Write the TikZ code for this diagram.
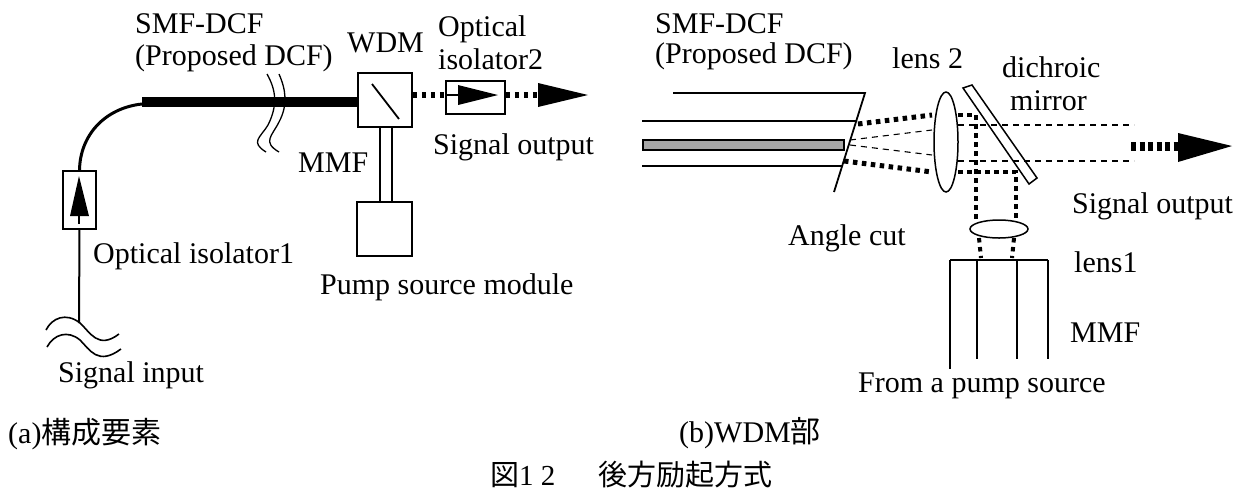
\documentclass[tikz,border=0pt]{standalone}
\usepackage{fontspec}
\setmainfont{Liberation Serif}
\newfontfamily\cjk{Noto Sans CJK JP}
\usetikzlibrary{calc}
\usetikzlibrary{shapes.geometric}
\colorlet{corecolor}{black!35}
\tikzstyle{lbl} = [
    anchor=base west,
    inner sep=0pt,
    font=\fontsize{30}{36}\selectfont
    ]
\tikzstyle{optbox} = [
    draw=black,
    line width=1.5pt,
    rectangle,
    inner sep=0pt
    ]
\tikzstyle{fibre} = [
    draw=black,
    line width=1.6pt
    ]
\tikzstyle{beam} = [
    draw=black,
    line width=5pt,
    dash pattern=on 4.5pt off 4.5pt
    ]
\tikzstyle{thinbeam} = [
    draw=black,
    line width=1.1pt,
    dash pattern=on 6pt off 5pt
    ]
\tikzstyle{bigbeam} = [
    draw=black,
    line width=9pt,
    dash pattern=on 5pt off 3.5pt
    ]
\tikzstyle{lens} = [
    draw=black,
    line width=1.5pt,
    ellipse,
    inner sep=0pt
    ]
\begin{document}
\begin{tikzpicture}[x=1pt,y=-1pt]
\useasboundingbox (0,0) rectangle (1252,491);

% (a) left part
\node[optbox, minimum width=54pt, minimum height=54pt] (wdm) at (385,100) {};
\node[optbox, minimum width=33pt, minimum height=58pt] (isoone) at (79.5,200) {};
\node[optbox, minimum width=59pt, minimum height=33pt] (isotwo) at (475.5,97.5) {};
\node[optbox, minimum width=55pt, minimum height=54pt] (pump) at (384.5,229) {};
\coordinate (bend) at (142,104);
\coordinate (inend) at (79,323);
\coordinate (outstart) at (538,95);

\draw[line width=10pt] (bend |- 0,102) -- (wdm.west |- 0,102);
\draw[line width=3pt] (bend) .. controls (105,108) and (80,135) .. (isoone.north);
\draw[fibre, line width=2pt] (isoone.south) -- (inend);
\draw[line width=1.8pt] (372,84) -- (399,119);
\draw[fibre, line width=1.4pt] ($(wdm.south)+(-5,0)$) -- ($(pump.north)+(-4.5,0)$);
\draw[fibre, line width=1.4pt] ($(wdm.south)+(7,0)$) -- ($(pump.north)+(7.5,0)$);
\draw[beam, line width=6pt] (wdm.east |- 0,95) -- (isotwo.west |- 0,95);
\draw[beam, line width=6pt] (isotwo.east |- 0,95) -- (outstart);
\fill (outstart |- 0,83) -- (588,95) -- (outstart |- 0,107) -- cycle;
% arrows in the isolators
\fill (458,85) -- (498,95) -- (458,105) -- cycle;
\draw[line width=2.2pt] (isotwo.west |- 0,95) -- (458,95);
\fill (79,176) -- (89,216) -- (70,216) -- cycle;
\draw[line width=2.2pt] (79,214) -- (79,224);
% breaks
\draw[line width=1.3pt] (267,74) .. controls (276,90) and (278,105) .. (268,125) .. controls (260,138) and (250,142) .. (266,152);
\draw[line width=1.3pt] (279,74) .. controls (286,90) and (288,105) .. (279,122) .. controls (272,136) and (262,142) .. (279,152);
\draw[line width=1.6pt] (46,330) .. controls (52,318) and (66,312) .. (80,323) .. controls (90,332) and (98,350) .. (119,334);
\draw[line width=1.6pt] (47,347) .. controls (54,334) and (68,330) .. (80,340) .. controls (90,350) and (98,366) .. (121,349);

\node[lbl] (smfa) at (135,33) {SMF-DCF};
\node[lbl] (dcfa) at (135,65) {(Proposed DCF)};
\node[lbl] (wdmlabel) at (347,52) {WDM};
\node[lbl] (opta) at (438,36) {Optical};
\node[lbl] (optb) at (438,69) {isolator2};
\node[lbl] (outa) at (433,154) {Signal output};
\node[lbl] (mmfa) at (298,172) {MMF};
\node[lbl] (isolabel) at (93,263) {Optical isolator1};
\node[lbl] (pumplabel) at (320,294) {Pump source module};
\node[lbl] (inlabel) at (58,382) {Signal input};
\node[lbl] (capa) at (8,443) {(a){\cjk 構成要素}};

% (b) right part
\coordinate (cuttop) at (865,93);
\coordinate (cutbot) at (834,192);
\node[lens, minimum width=24pt, minimum height=100pt] (lenstwo) at (946,142) {};
\node[lens, minimum width=58pt, minimum height=18pt] (lensone) at (999,229) {};
\draw[fibre, line width=1.8pt] (673,93) -- (cuttop) -- (cutbot);
\draw[fibre] (642,121) -- (856,121);
\draw[fibre] (642,166) -- (842,166);
\draw[fibre, line width=1.8pt, fill=corecolor] (643,140) rectangle (844,150);
\draw[line width=1.5pt] (963,88) -- (972,85) -- (1037,178) -- (1029,184) -- cycle;

\draw[beam] (858,124) -- (932,115);
\draw[beam] (844,161) -- (932,172);
\draw[thinbeam] (850,140) -- (932,130);
\draw[thinbeam] (850,145) -- (932,155);
\draw[thinbeam] (958,125) -- (1134,125);
\draw[thinbeam] (958,161) -- (1134,161);
\draw[beam, line width=4pt] (958,115) -- (976,115) -- (976,220);
\draw[beam, line width=4pt] (958,172) -- (1016,172) -- (1016,220);
\draw[beam, line width=4pt] (979,238) -- (981,258);
\draw[beam, line width=4pt] (1014,238) -- (1012,258);
\coordinate (outb) at (1178,146);
\draw[bigbeam] (1131,146) -- (outb);
\fill (outb |- 0,133) -- (1232,146) -- (outb |- 0,162) -- cycle;

\draw[fibre, line width=2.4pt] (950,260) -- (1048,260);
\draw[fibre] (950,260) -- (950,369);
\draw[fibre] (977,260) -- (977,359);
\draw[fibre] (1017,260) -- (1017,359);
\draw[fibre] (1048,260) -- (1048,359);

\node[lbl] (smfb) at (655,33) {SMF-DCF};
\node[lbl] (dcfb) at (655,63) {(Proposed DCF)};
\node[lbl] (lenstwolabel) at (892,68) {lens 2};
\node[lbl] (dichroic) at (1002,77) {dichroic};
\node[lbl] (mirror) at (1010,110) {mirror};
\node[lbl] (outc) at (1072,213) {Signal output};
\node[lbl] (cutlabel) at (788,245) {Angle cut};
\node[lbl] (lensonelabel) at (1074,272) {lens1};
\node[lbl] (mmfb) at (1070,342) {MMF};
\node[lbl] (fromlabel) at (858,392) {From a pump source};
\node[lbl] (capb) at (679,442) {(b)WDM{\cjk 部}};
\node[lbl, font=\fontsize{29}{34}\selectfont] (title) at (490,485) {{\cjk 図}1 2\hspace{43pt}{\cjk 後方励起方式}};
\end{tikzpicture}
\end{document}
